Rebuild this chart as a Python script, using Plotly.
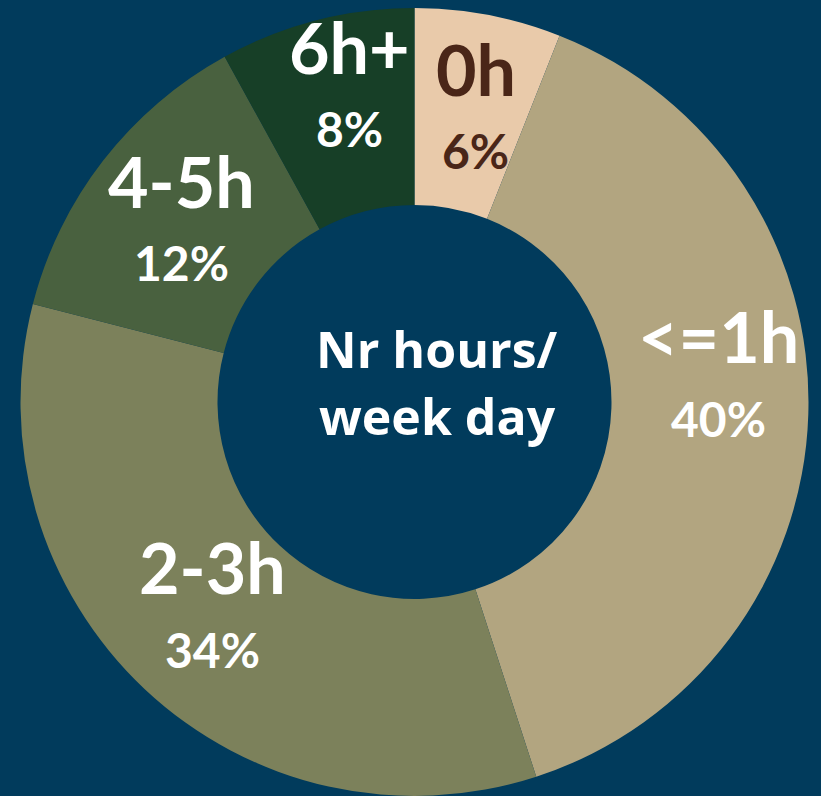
import math
import plotly.graph_objects as go

# ---- data ----
categories = ["0h", "<=1h", "2-3h", "4-5h", "6h+"]
shares = [6, 39, 34, 13, 8]
percent_labels = ["6%", "40%", "34%", "12%", "8%"]
center_lines = ["Nr hours/", "week day"]

# ---- style ----
W, H = 821, 796
BG = "#013b5c"
slice_colors = ["#e9caaa", "#b2a580", "#7c815b", "#49613f", "#173f27"]
text_colors = ["#4a2618", "white", "white", "white", "white"]
label_nudge = [(6, -3), (9, -35), (0, -10), (0, 0), (8, -29)]  # pixel offsets of text blocks
HOLE = 0.5
DOM_X = [0.02497, 0.98477]
DOM_Y = [0.0, 0.98995]

fig = go.Figure(go.Pie(
    labels=categories,
    values=shares,
    sort=False,
    direction="clockwise",
    rotation=0,
    hole=HOLE,
    marker=dict(colors=slice_colors, line=dict(width=0)),
    textinfo="none",
    hoverinfo="skip",
    showlegend=False,
    domain=dict(x=DOM_X, y=DOM_Y),
))

# geometry of the pie in pixels (derived from domain)
cx = (DOM_X[0] + DOM_X[1]) / 2 * W
cy = (1 - (DOM_Y[0] + DOM_Y[1]) / 2) * H
R = min((DOM_X[1] - DOM_X[0]) * W, (DOM_Y[1] - DOM_Y[0]) * H) / 2
r_text = R * (1 + HOLE) / 2

total = sum(shares)
cum = 0
annotations = []
for cat, v, pl, tc, (nx, ny) in zip(categories, shares, percent_labels, text_colors, label_nudge):
    mid = (cum + v / 2) / total * 2 * math.pi
    cum += v
    px = cx + r_text * math.sin(mid) + nx
    py = cy - r_text * math.cos(mid) + ny
    xp, yp = px / W, 1 - py / H
    annotations.append(dict(
        x=xp, y=yp, xref="paper", yref="paper", text=cat, showarrow=False,
        xanchor="center", yanchor="middle", yshift=40,
        font=dict(family="Lato", size=70, color=tc, weight=700),
    ))
    annotations.append(dict(
        x=xp, y=yp, xref="paper", yref="paper", text=pl, showarrow=False,
        xanchor="center", yanchor="middle", yshift=-42,
        font=dict(family="Lato", size=48, color=tc, weight=700),
    ))

CENTER_XSHIFT = 23
for line, shift in zip(center_lines, [53, -14]):
    annotations.append(dict(
        x=cx / W, y=1 - cy / H, xref="paper", yref="paper", text=line,
        showarrow=False, xanchor="center", yanchor="middle",
        xshift=CENTER_XSHIFT, yshift=shift,
        font=dict(family="Open Sans", size=50, color="white", weight=700),
    ))

fig.update_layout(
    width=W, height=H,
    margin=dict(l=0, r=0, t=0, b=0),
    paper_bgcolor=BG, plot_bgcolor=BG,
    annotations=annotations,
)

fig.write_html(
    "out.html",
    config={"displayModeBar": False},
    post_script="document.body.style.margin='0px';document.body.style.background='" + BG + "';",
)
